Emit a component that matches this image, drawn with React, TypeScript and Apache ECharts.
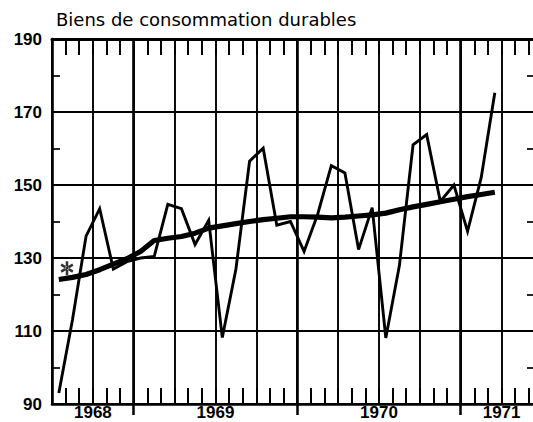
import React, { useEffect, useRef } from "react";
import * as echarts from "echarts";

// Monthly observations (mid-month), July 1968 – March 1971
const months = [
  "1968-07", "1968-08", "1968-09", "1968-10", "1968-11", "1968-12",
  "1969-01", "1969-02", "1969-03", "1969-04", "1969-05", "1969-06",
  "1969-07", "1969-08", "1969-09", "1969-10", "1969-11", "1969-12",
  "1970-01", "1970-02", "1970-03", "1970-04", "1970-05", "1970-06",
  "1970-07", "1970-08", "1970-09", "1970-10", "1970-11", "1970-12",
  "1971-01", "1971-02", "1971-03",
];

const rawValues = [
  93, 113, 136, 143.5, 127, 129,
  130, 130.4, 144.7, 143.5, 133.7, 140.3, 108.2, 127, 156.5, 160.1, 139, 140,
  131.8, 142, 155.3, 153.3, 132.3, 143.8, 108.1, 128, 161, 163.8, 145.5, 150,
  137.3, 152, 175.3,
];

const trendValues = [
  124.1, 124.7, 125.5, 126.8, 128.3, 129.8,
  131.8, 134.8, 135.4, 135.9, 136.8, 138.2, 138.8, 139.4, 140, 140.5, 140.9, 141.3,
  141.3, 141.2, 141.0, 141.2, 141.5, 141.8, 142.3, 143.2, 144, 144.7, 145.4, 146.1,
  146.8, 147.4, 148,
];

// asterisk marker: [months since Jan 1968, value]
const markerPoint = [7.1, 127.2];

const yearLabels = ["1968", "1969", "1970", "1971"];
const yearLabelPositions = [9, 18, 30, 39];
const yearBoundaries = [12, 24, 36];

const yMin = 90;
const yMax = 190;
const yStep = 20;
const xMin = 6;
const xMax = 41.45;

const titleText = "Biens de consommation durables";

const toX = (m: string) => {
  const [y, mo] = m.split("-").map(Number);
  return (y - 1968) * 12 + (mo - 1) + 0.5;
};

const asteriskPath =
  "path://M-1.1,-6L1.1,-6L1.1,6L-1.1,6Z" +
  "M4.6,3.95L5.7,2.05L-4.6,-3.95L-5.7,-2.05Z" +
  "M-4.6,3.95L-5.7,2.05L4.6,-3.95L5.7,-2.05Z";

export default function App() {
  const ref = useRef<HTMLDivElement>(null);

  useEffect(() => {
    if (!ref.current) return;
    const chart = echarts.init(ref.current, undefined, { renderer: "svg" });
    const black = "#000";
    const rawData = months.map((m, i) => [toX(m), rawValues[i]]);
    const trendData = months.map((m, i) => [toX(m), trendValues[i]]);

    const baseX = {
      type: "value" as const,
      min: xMin,
      max: xMax,
      gridIndex: 0,
    };

    chart.setOption({
      animation: false,
      backgroundColor: "#fff",
      title: {
        text: titleText,
        left: 51,
        top: 5,
        textStyle: {
          fontFamily: "DejaVu Sans",
          fontSize: 18,
          fontWeight: "normal",
          color: black,
        },
      },
      grid: {
        left: 52,
        top: 39,
        width: 483,
        height: 365,
        outerBoundsMode: "none",
        containLabel: false,
      },
      xAxis: [
        {
          ...baseX,
          position: "bottom",
          interval: 1,
          axisLine: { show: true, lineStyle: { color: black, width: 2.6 } },
          axisTick: { show: true, inside: true, length: 16, lineStyle: { color: black, width: 2 } },
          axisLabel: { show: false },
          splitLine: { show: false },
        },
        {
          ...baseX,
          position: "top",
          interval: 1,
          axisLine: { show: true, lineStyle: { color: black, width: 3 } },
          axisTick: { show: true, inside: true, length: 16, lineStyle: { color: black, width: 2 } },
          axisLabel: { show: false },
          splitLine: { show: false },
        },
        {
          ...baseX,
          position: "bottom",
          interval: 3,
          axisLine: { show: false },
          axisTick: { show: false },
          axisLabel: { show: false },
          splitLine: { show: true, lineStyle: { color: black, width: 1.9 } },
        },
        {
          ...baseX,
          position: "bottom",
          axisLine: { show: false },
          axisTick: {
            show: true,
            inside: false,
            length: 11,
            customValues: yearBoundaries,
            lineStyle: { color: black, width: 2.5 },
          },
          axisLabel: {
            show: true,
            customValues: yearLabelPositions,
            margin: 0,
            formatter: (v: number) => {
              const idx = yearLabelPositions.indexOf(v);
              return idx >= 0 ? yearLabels[idx] : "";
            },
            fontFamily: "Liberation Sans",
            fontWeight: "bold",
            fontSize: 17,
            color: black,
          },
          splitLine: { show: false },
        },
      ],
      yAxis: [
        {
          type: "value",
          position: "left",
          min: yMin,
          max: yMax,
          interval: yStep,
          axisLine: { show: true, lineStyle: { color: black, width: 2.6 } },
          axisTick: { show: false, inside: true },
          minorTick: { show: true, splitNumber: 2, length: 8, lineStyle: { color: black, width: 1.7 } },
          axisLabel: {
            show: true,
            margin: 10,
            fontFamily: "Liberation Sans",
            fontWeight: "bold",
            fontSize: 17,
            color: black,
          },
          splitLine: { show: true, lineStyle: { color: black, width: 1.9 } },
        },
        {
          type: "value",
          position: "right",
          min: yMin,
          max: yMax,
          interval: yStep,
          axisLine: { show: true, lineStyle: { color: black, width: 2.5 } },
          axisTick: { show: false, inside: true },
          minorTick: { show: true, splitNumber: 2, length: 8, lineStyle: { color: black, width: 1.7 } },
          axisLabel: { show: false },
          splitLine: { show: false },
        },
      ],
      series: [
        {
          type: "line",
          name: "raw",
          xAxisIndex: 0,
          yAxisIndex: 0,
          data: rawData,
          symbol: "none",
          lineStyle: { color: black, width: 2.9, join: "miter" },
          z: 3,
          markLine: {
            silent: true,
            symbol: ["none", "none"],
            label: { show: false },
            lineStyle: { color: black, width: 2.6, type: "solid" },
            data: yearBoundaries.map((v) => ({ xAxis: v })),
            z: 1,
          },
        },
        {
          type: "line",
          name: "trend",
          xAxisIndex: 0,
          yAxisIndex: 0,
          data: trendData,
          symbol: "none",
          lineStyle: { color: black, width: 5.2 },
          z: 4,
        },
        {
          type: "scatter",
          name: "marker",
          xAxisIndex: 0,
          yAxisIndex: 0,
          data: [markerPoint],
          symbol: asteriskPath,
          symbolSize: [13, 14],
          itemStyle: { color: black },
          z: 5,
        },
      ],
    });
    return () => chart.dispose();
  }, []);

  return (
    <div
      ref={ref}
      style={{ position: "fixed", left: 0, top: 0, width: 533, height: 422, background: "#fff" }}
    />
  );
}
